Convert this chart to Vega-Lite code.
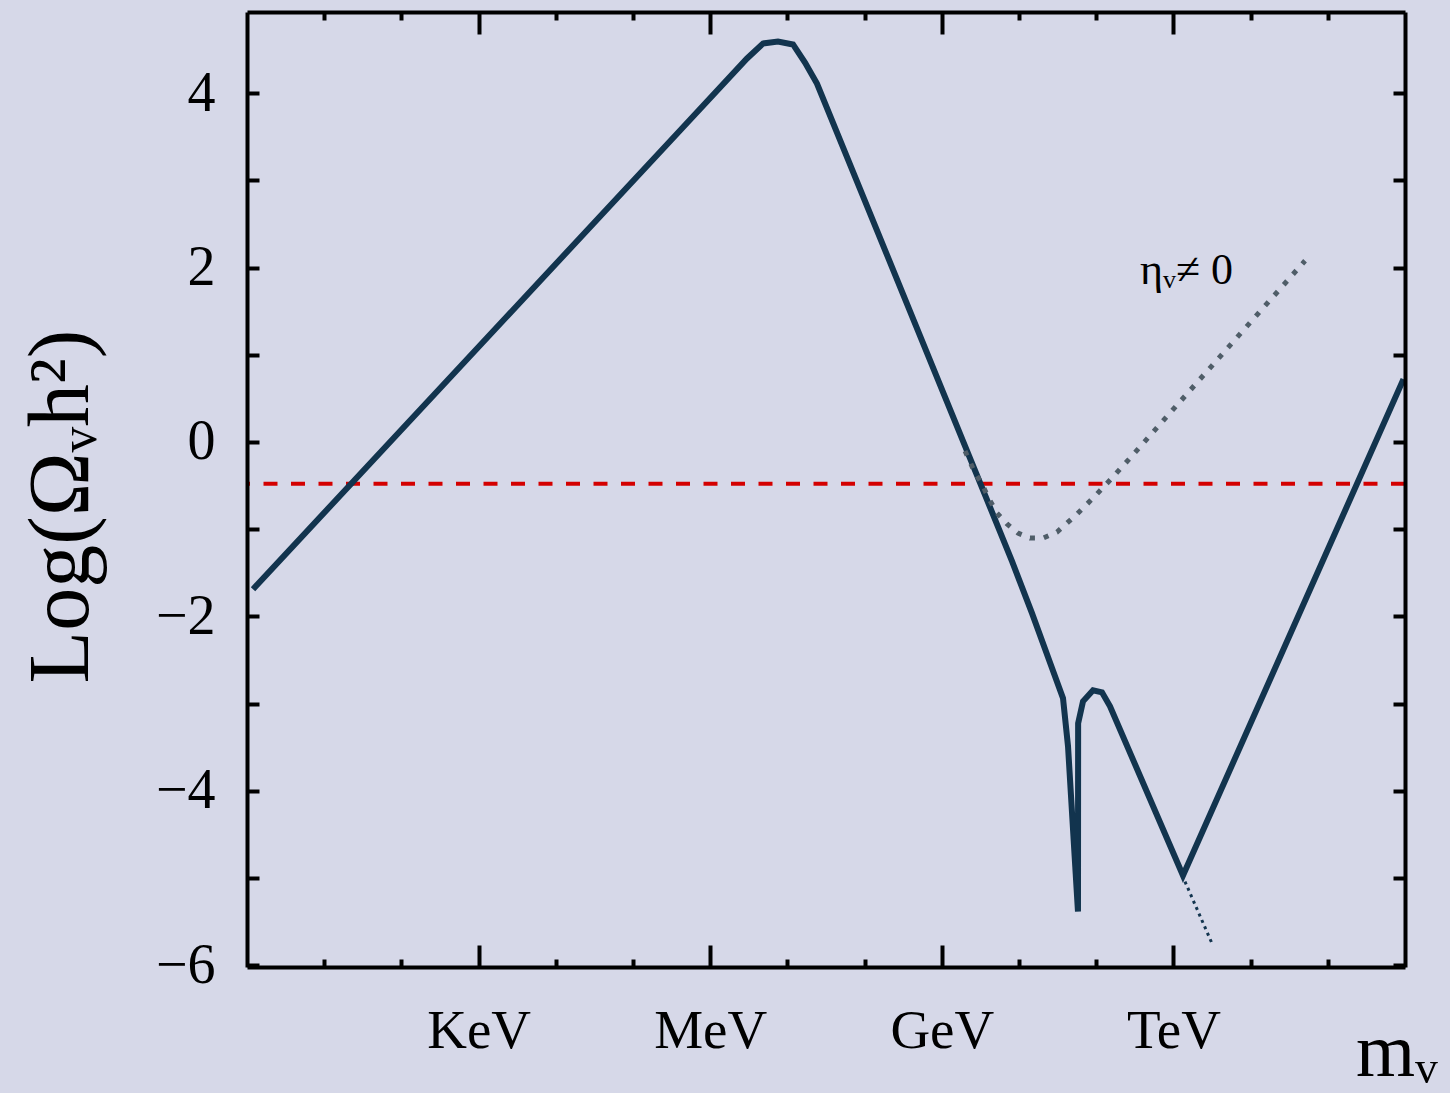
{
  "$schema": "https://vega.github.io/schema/vega-lite/v6.json",
  "width": 1158,
  "height": 955,
  "autosize": {"type": "none"},
  "padding": {"left": 247, "top": 12, "right": 45, "bottom": 126},
  "background": "#d6d8e8",
  "config": {
    "view": {"stroke": null},
    "font": "Liberation Serif"
  },
  "datasets": {
    "main": [
      {"i": 1, "x": 0.078, "y": -1.688},
      {"i": 2, "x": 5.609, "y": 3.571},
      {"i": 3, "x": 6.477, "y": 4.397},
      {"i": 4, "x": 6.684, "y": 4.569},
      {"i": 5, "x": 6.878, "y": 4.592},
      {"i": 6, "x": 7.073, "y": 4.558},
      {"i": 7, "x": 7.228, "y": 4.351},
      {"i": 8, "x": 7.383, "y": 4.110},
      {"i": 9, "x": 9.365, "y": -0.184},
      {"i": 10, "x": 9.909, "y": -1.366},
      {"i": 11, "x": 10.168, "y": -1.963},
      {"i": 12, "x": 10.570, "y": -2.939},
      {"i": 13, "x": 10.635, "y": -3.490},
      {"i": 14, "x": 10.764, "y": -5.385},
      {"i": 15, "x": 10.766, "y": -3.226},
      {"i": 16, "x": 10.829, "y": -2.974},
      {"i": 17, "x": 10.959, "y": -2.847},
      {"i": 18, "x": 11.075, "y": -2.870},
      {"i": 19, "x": 11.179, "y": -3.031},
      {"i": 20, "x": 12.124, "y": -4.971},
      {"i": 21, "x": 14.98, "y": 0.72}
    ],
    "cont": [
      {"x": 12.15, "y": -5.04},
      {"x": 12.50, "y": -5.75}
    ],
    "eta": [
      {"x": 9.301, "y": -0.103},
      {"x": 9.430, "y": -0.356},
      {"x": 9.521, "y": -0.482},
      {"x": 9.598, "y": -0.631},
      {"x": 9.715, "y": -0.815},
      {"x": 9.845, "y": -0.941},
      {"x": 9.987, "y": -1.045},
      {"x": 10.142, "y": -1.102},
      {"x": 10.311, "y": -1.102},
      {"x": 10.492, "y": -1.033},
      {"x": 10.622, "y": -0.930},
      {"x": 10.751, "y": -0.827},
      {"x": 10.959, "y": -0.643},
      {"x": 11.205, "y": -0.413},
      {"x": 11.451, "y": -0.172},
      {"x": 13.705, "y": 2.078}
    ],
    "omega": [{"y": -0.48}],
    "label": [{"x": 11.567, "y": 1.814, "text": "ηᵥ≠ 0"}]
  },
  "resolve": {"axis": {"x": "independent", "y": "independent"}},
  "layer": [
    {
      "data": {"name": "omega"},
      "mark": {"type": "rule", "color": "#d40000", "strokeWidth": 4, "strokeDash": [14, 13.5]},
      "encoding": {
        "y": {"field": "y", "type": "quantitative", "scale": {"domain": [-6.02, 4.93], "nice": false, "zero": false}, "axis": null}
      }
    },
    {
      "data": {"name": "main"},
      "mark": {"type": "line", "color": "#12344e", "strokeWidth": 6, "clip": true},
      "encoding": {
        "order": {"field": "i", "type": "quantitative"},
        "x": {
          "field": "x", "type": "quantitative",
          "scale": {"domain": [0, 15], "nice": false, "zero": false},
          "axis": {
            "orient": "bottom", "values": [3, 6, 9, 12],
            "labelExpr": "datum.value == 3 ? 'KeV' : datum.value == 6 ? 'MeV' : datum.value == 9 ? 'GeV' : 'TeV'",
            "tickSize": -22, "tickWidth": 4, "tickColor": "black",
            "domain": true, "domainWidth": 4, "domainColor": "black",
            "grid": false, "labelFont": "Liberation Serif", "labelFontSize": 55, "labelColor": "black",
            "labelPadding": 59, "labelFlush": false,
            "title": "mᵥ", "titleFont": "Liberation Serif", "titleFontSize": 76, "titleFontWeight": "normal", "titleColor": "black",
            "titleX": 1190, "titleY": 108, "titleAlign": "right", "titleBaseline": "alphabetic", "titleAnchor": null,
            "zindex": 1
          }
        },
        "y": {
          "field": "y", "type": "quantitative",
          "scale": {"domain": [-6.02, 4.93], "nice": false, "zero": false},
          "axis": {
            "orient": "left", "values": [-6, -5, -4, -3, -2, -1, 0, 1, 2, 3, 4],
            "labelExpr": "datum.value % 2 == 0 ? datum.label : ''",
            "tickSize": -12, "tickWidth": 4, "tickColor": "black",
            "domain": true, "domainWidth": 4, "domainColor": "black",
            "grid": false, "labelFont": "Liberation Serif", "labelFontSize": 56, "labelColor": "black",
            "labelPadding": 44,
            "title": "Log(Ωᵥh²)", "titleFont": "Liberation Serif", "titleFontSize": 86, "titleFontWeight": "normal", "titleColor": "black",
            "titleX": -160, "titleY": 494, "titleAngle": -90, "titleAlign": "center", "titleBaseline": "alphabetic",
            "zindex": 1
          }
        }
      }
    },
    {
      "data": {"name": "eta"},
      "mark": {"type": "line", "color": "#4f5d68", "strokeWidth": 5, "strokeDash": [5, 9], "clip": true},
      "encoding": {
        "x": {
          "field": "x", "type": "quantitative",
          "axis": {
            "orient": "bottom", "values": [1, 2, 4, 5, 7, 8, 10, 11, 13, 14],
            "labels": false, "tickSize": -8, "tickWidth": 4, "tickColor": "black",
            "domain": false, "grid": false, "title": null, "zindex": 1
          }
        },
        "y": {
          "field": "y", "type": "quantitative",
          "axis": {
            "orient": "right", "values": [-6, -5, -4, -3, -2, -1, 0, 1, 2, 3, 4],
            "labels": false, "tickSize": -12, "tickWidth": 4, "tickColor": "black",
            "domain": true, "domainWidth": 4, "domainColor": "black", "grid": false, "title": null, "zindex": 1
          }
        }
      }
    },
    {
      "data": {"name": "cont"},
      "mark": {"type": "line", "color": "#12344e", "strokeWidth": 3, "strokeDash": [3, 4], "clip": true},
      "encoding": {
        "x": {
          "field": "x", "type": "quantitative",
          "axis": {
            "orient": "top", "values": [3, 6, 9, 12],
            "labels": false, "tickSize": -22, "tickWidth": 4, "tickColor": "black",
            "domain": true, "domainWidth": 4, "domainColor": "black", "grid": false, "title": null, "zindex": 1
          }
        },
        "y": {"field": "y", "type": "quantitative", "axis": null}
      }
    },
    {
      "data": {"name": "label"},
      "mark": {"type": "text", "font": "Liberation Serif", "fontSize": 44, "color": "black", "align": "left", "baseline": "alphabetic"},
      "encoding": {
        "x": {
          "field": "x", "type": "quantitative",
          "axis": {
            "orient": "top", "values": [1, 2, 4, 5, 7, 8, 10, 11, 13, 14],
            "labels": false, "tickSize": -8, "tickWidth": 4, "tickColor": "black",
            "domain": false, "grid": false, "title": null, "zindex": 1
          }
        },
        "y": {"field": "y", "type": "quantitative", "axis": null},
        "text": {"field": "text"}
      }
    }
  ]
}
